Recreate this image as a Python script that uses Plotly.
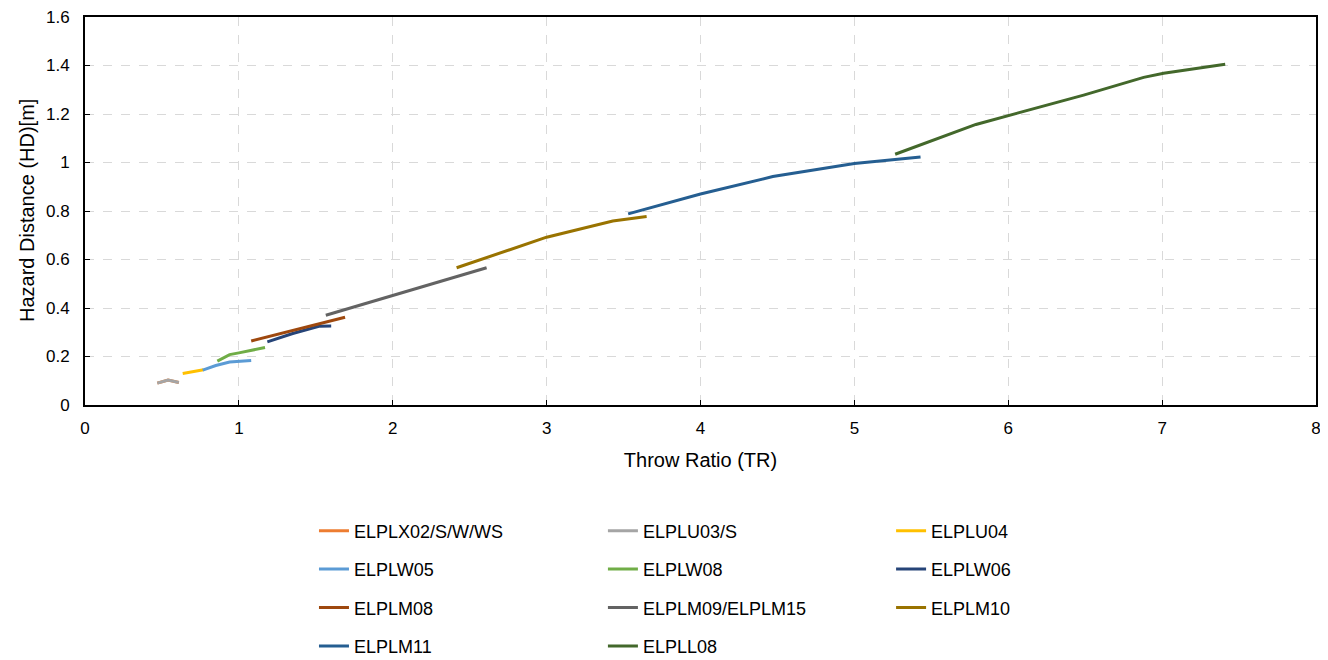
import plotly.graph_objects as go

# Throw ratio (x) vs hazard distance (y) per projector model
names = ["ELPLX02/S/W/WS", "ELPLU03/S", "ELPLU04", "ELPLW05", "ELPLW08", "ELPLW06",
         "ELPLM08", "ELPLM09/ELPLM15", "ELPLM10", "ELPLM11", "ELPLL08"]

elplx02_x = [0.47, 0.54, 0.61]
elplx02_y = [0.090, 0.103, 0.093]
elplu03_x = [0.47, 0.54, 0.61]
elplu03_y = [0.090, 0.103, 0.093]
elplu04_x = [0.635, 0.70, 0.77]
elplu04_y = [0.130, 0.137, 0.145]
elplw05_x = [0.765, 0.85, 0.94, 1.00, 1.08]
elplw05_y = [0.144, 0.163, 0.177, 0.180, 0.183]
elplw08_x = [0.86, 0.94, 1.00, 1.17]
elplw08_y = [0.181, 0.208, 0.215, 0.237]
elplw06_x = [1.185, 1.35, 1.52, 1.60]
elplw06_y = [0.260, 0.295, 0.325, 0.326]
elplm08_x = [1.08, 1.40, 1.69]
elplm08_y = [0.264, 0.314, 0.362]
elplm09_x = [1.565, 2.10, 2.61]
elplm09_y = [0.370, 0.470, 0.566]
elplm10_x = [2.415, 2.80, 3.00, 3.43, 3.65]
elplm10_y = [0.566, 0.650, 0.692, 0.759, 0.777]
elplm11_x = [3.53, 4.00, 4.47, 5.00, 5.43]
elplm11_y = [0.788, 0.870, 0.942, 0.996, 1.023]
elpll08_x = [5.265, 5.79, 6.49, 6.88, 7.01, 7.41]
elpll08_y = [1.034, 1.157, 1.278, 1.351, 1.368, 1.405]

xs = [elplx02_x, elplu03_x, elplu04_x, elplw05_x, elplw08_x, elplw06_x,
      elplm08_x, elplm09_x, elplm10_x, elplm11_x, elpll08_x]
ys = [elplx02_y, elplu03_y, elplu04_y, elplw05_y, elplw08_y, elplw06_y,
      elplm08_y, elplm09_y, elplm10_y, elplm11_y, elpll08_y]

colors = ["#ED7D31", "#A5A5A5", "#FFC000", "#5B9BD5", "#70AD47", "#264478",
          "#9E480E", "#636363", "#997300", "#255E91", "#43682B"]

# which legend column each series goes in (3 columns, row-major order)
legend_of = ["legend", "legend2", "legend3"] * 4

fig = go.Figure()
for i, n in enumerate(names):
    fig.add_trace(go.Scatter(x=xs[i], y=ys[i], mode="lines", name=n,
                             line=dict(color=colors[i], width=3),
                             legend=legend_of[i], legendgroup=n))

tick_font = dict(family="Liberation Sans, Arial", size=17, color="black")
title_font = dict(family="Liberation Sans, Arial", size=20, color="black")
leg = dict(orientation="v", xref="container", yref="container",
           yanchor="top", y=0.2262, xanchor="left",
           font=dict(family="Liberation Sans, Arial", size=18, color="black"),
           tracegroupgap=12, bgcolor="rgba(0,0,0,0)")

# page body has an 8px margin, so the figure is 8px smaller each way
fig.update_layout(
    width=1320, height=652,
    margin=dict(l=77, r=12, t=9, b=255, autoexpand=False),
    plot_bgcolor="white", paper_bgcolor="white",
    font=tick_font,
    legend=dict(leg, x=0.2318),
    legend2=dict(leg, x=0.4507),
    legend3=dict(leg, x=0.669),
    xaxis=dict(range=[0, 8], dtick=1, automargin=True,
               title=dict(text="Throw Ratio (TR)", font=title_font, standoff=16),
               showgrid=True, gridcolor="#D9D9D9", griddash="dash", zeroline=False,
               showline=True, linecolor="black", linewidth=2, mirror=True,
               ticks="inside", ticklen=5, tickcolor="black", tickfont=tick_font,
               ticklabelstandoff=7, ticklabeloverflow="allow"),
    yaxis=dict(range=[0, 1.6], dtick=0.2, automargin=True,
               showgrid=True, gridcolor="#D9D9D9", griddash="dash", zeroline=False,
               showline=True, linecolor="black", linewidth=2, mirror=True,
               ticks="inside", ticklen=5, tickcolor="black", tickfont=tick_font,
               ticklabelstandoff=10, ticklabeloverflow="allow"),
)

# y axis title as a rotated annotation (axis title misplaces with autoexpand off)
fig.add_annotation(text="Hazard Distance (HD)[m]", xref="paper", yref="paper",
                   x=-0.0471, y=0.5, xanchor="center", yanchor="middle",
                   textangle=-90, showarrow=False, font=title_font)

fig.write_html("out.html")
